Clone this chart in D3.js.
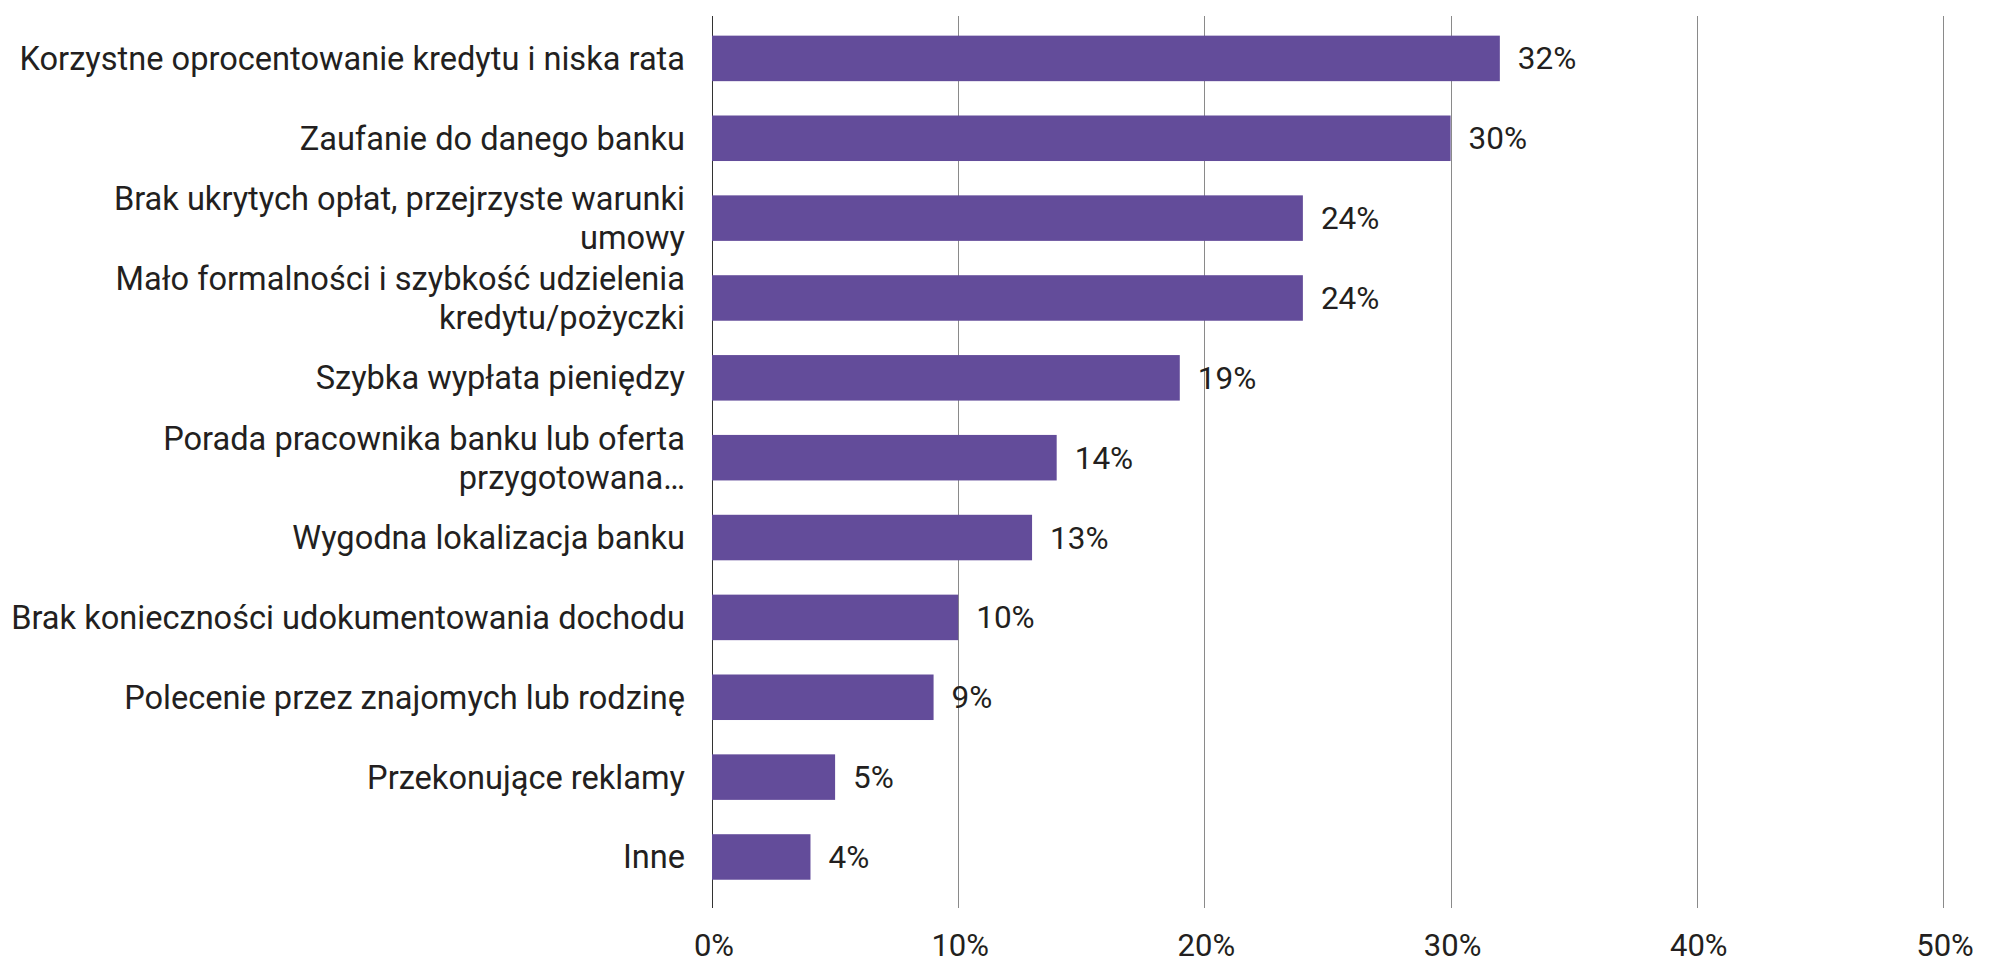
<!DOCTYPE html>
<html>
<head>
<meta charset="utf-8">
<script src="https://cdn.jsdelivr.net/npm/d3@7.9.0/dist/d3.min.js"></script>
<style>
  html, body { margin: 0; padding: 0; background: #fff; }
  svg { display: block; font-family: Roboto, "Noto Sans", sans-serif; }
</style>
</head>
<body>
<svg id="chart" width="1995" height="979"></svg>
<script>
// data
const categories = [
  ["Korzystne oprocentowanie kredytu i niska rata"],
  ["Zaufanie do danego banku"],
  ["Brak ukrytych opłat, przejrzyste warunki", "umowy"],
  ["Mało formalności i szybkość udzielenia", "kredytu/pożyczki"],
  ["Szybka wypłata pieniędzy"],
  ["Porada pracownika banku lub oferta", "przygotowana…"],
  ["Wygodna lokalizacja banku"],
  ["Brak konieczności udokumentowania dochodu"],
  ["Polecenie przez znajomych lub rodzinę"],
  ["Przekonujące reklamy"],
  ["Inne"]
];
const values = [32, 30, 24, 24, 19, 14, 13, 10, 9, 5, 4];
const ticks = [0, 10, 20, 30, 40, 50];

const svg = d3.select("#chart");
const fontSize = 31;
const textColor = "#231f20";

const x = d3.scaleLinear().domain([0, 50]).range([712, 1943]);
const y = d3.scaleBand()
  .domain(d3.range(categories.length))
  .range([16, 908])
  .paddingInner(0.43)
  .paddingOuter(0.3)
  .align(0.41);

// gridlines
svg.append("g")
  .selectAll("line")
  .data(ticks)
  .join("line")
  .attr("x1", d => Math.round(x(d)) + 0.5)
  .attr("x2", d => Math.round(x(d)) + 0.5)
  .attr("y1", 16)
  .attr("y2", 908)
  .attr("stroke", d => d === 0 ? "#333" : "#8a8a8a")
  .attr("stroke-width", 1);

// tick labels
svg.append("g")
  .selectAll("text")
  .data(ticks)
  .join("text")
  .attr("x", d => x(d) + 2)
  .attr("y", 956)
  .attr("text-anchor", "middle")
  .attr("font-size", fontSize)
  .attr("fill", textColor)
  .text(d => d + "%");

// bars
svg.append("g")
  .selectAll("rect")
  .data(values)
  .join("rect")
  .attr("x", x(0))
  .attr("y", (d, i) => y(i))
  .attr("width", d => x(d) - x(0))
  .attr("height", y.bandwidth())
  .attr("fill", "#634c9a");

// value labels
svg.append("g")
  .selectAll("text")
  .data(values)
  .join("text")
  .attr("x", d => x(d) + 18)
  .attr("y", (d, i) => y(i) + y.bandwidth() / 2)
  .attr("dy", "0.35em")
  .attr("font-size", 31.5)
  .attr("fill", textColor)
  .text(d => d + "%");

// category labels
const lineH = 39;
const cat = svg.append("g")
  .selectAll("text")
  .data(categories)
  .join("text")
  .attr("text-anchor", "end")
  .attr("font-size", 32.6)
  .attr("fill", textColor)
  .attr("y", (d, i) => y(i) + y.bandwidth() / 2 - (d.length - 1) * lineH / 2);

cat.selectAll("tspan")
  .data(d => d)
  .join("tspan")
  .attr("x", 685)
  .attr("dy", (d, i) => i === 0 ? "0.35em" : lineH)
  .text(d => d);
</script>
</body>
</html>
